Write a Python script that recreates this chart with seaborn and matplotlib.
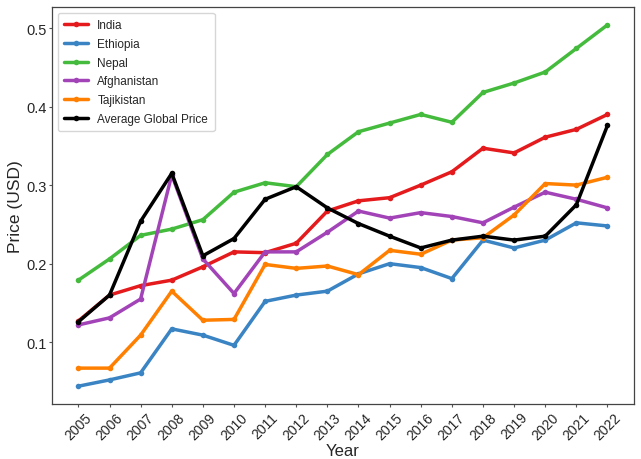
import matplotlib
matplotlib.use("Agg")
import matplotlib.pyplot as plt
import seaborn as sns
import pandas as pd

years = list(range(2005, 2023))

india = [0.127, 0.160, 0.172, 0.179, 0.196, 0.215, 0.214, 0.226, 0.267,
         0.280, 0.284, 0.300, 0.317, 0.347, 0.341, 0.361, 0.371, 0.390]
ethiopia = [0.044, 0.052, 0.061, 0.117, 0.109, 0.096, 0.152, 0.160, 0.165,
            0.187, 0.200, 0.195, 0.181, 0.230, 0.220, 0.230, 0.252, 0.248]
nepal = [0.179, 0.206, 0.236, 0.244, 0.256, 0.291, 0.303, 0.298, 0.339,
         0.368, 0.379, 0.390, 0.380, 0.418, 0.430, 0.444, 0.474, 0.504]
afghanistan = [0.122, 0.131, 0.155, 0.313, 0.206, 0.162, 0.215, 0.215, 0.240,
               0.267, 0.258, 0.265, 0.260, 0.252, 0.272, 0.291, 0.282, 0.271]
tajikistan = [0.067, 0.067, 0.109, 0.165, 0.128, 0.129, 0.199, 0.194, 0.197,
              0.186, 0.217, 0.212, 0.230, 0.233, 0.262, 0.302, 0.300, 0.310]
global_avg = [0.126, 0.160, 0.254, 0.315, 0.210, 0.232, 0.282, 0.298, 0.271,
              0.251, 0.235, 0.220, 0.230, 0.235, 0.230, 0.235, 0.275, 0.376]

series = {
    "India": india,
    "Ethiopia": ethiopia,
    "Nepal": nepal,
    "Afghanistan": afghanistan,
    "Tajikistan": tajikistan,
    "Average Global Price": global_avg,
}
colors = ["#e41a1c", "#3a84c4", "#44bb3c", "#a244b8", "#ff7f00", "#000000"]

df = pd.DataFrame(
    [(y, name, v) for name, vals in series.items() for y, v in zip(years, vals)],
    columns=["Year", "Country", "Price"],
)

sns.set_style("white")
plt.rcParams["font.family"] = ["Liberation Sans", "DejaVu Sans"]

fig = plt.figure(figsize=(6.41, 4.60), dpi=100)
ax = fig.add_axes([0.081, 0.119, 0.908, 0.864])

sns.lineplot(
    data=df, x="Year", y="Price", hue="Country",
    palette=dict(zip(series.keys(), colors)),
    marker="o", markersize=4, markeredgewidth=0, linewidth=2.5, ax=ax,
)

ax.set_xticks(years)
ax.set_xticklabels([str(y) for y in years], rotation=45, fontsize=10)
ax.tick_params(axis="y", labelsize=10.5)
ax.tick_params(axis="both", which="major", length=2.5, width=0.8, pad=1.5,
               direction="out", bottom=True, left=True, color="#555555")
ax.set_yticks([0.1, 0.2, 0.3, 0.4, 0.5])
ax.set_xlabel("Year", fontsize=12, labelpad=1)
ax.set_ylabel("Price (USD)", fontsize=12.5, labelpad=2)

for s in ax.spines.values():
    s.set_color("#444444")
    s.set_linewidth(0.9)

leg = ax.legend(loc="upper left", fontsize=8.5, frameon=True, borderpad=0.55,
                handlelength=2.0, labelspacing=0.57)
leg.get_frame().set_edgecolor("#cccccc")

fig.savefig("out.png", dpi=100)
